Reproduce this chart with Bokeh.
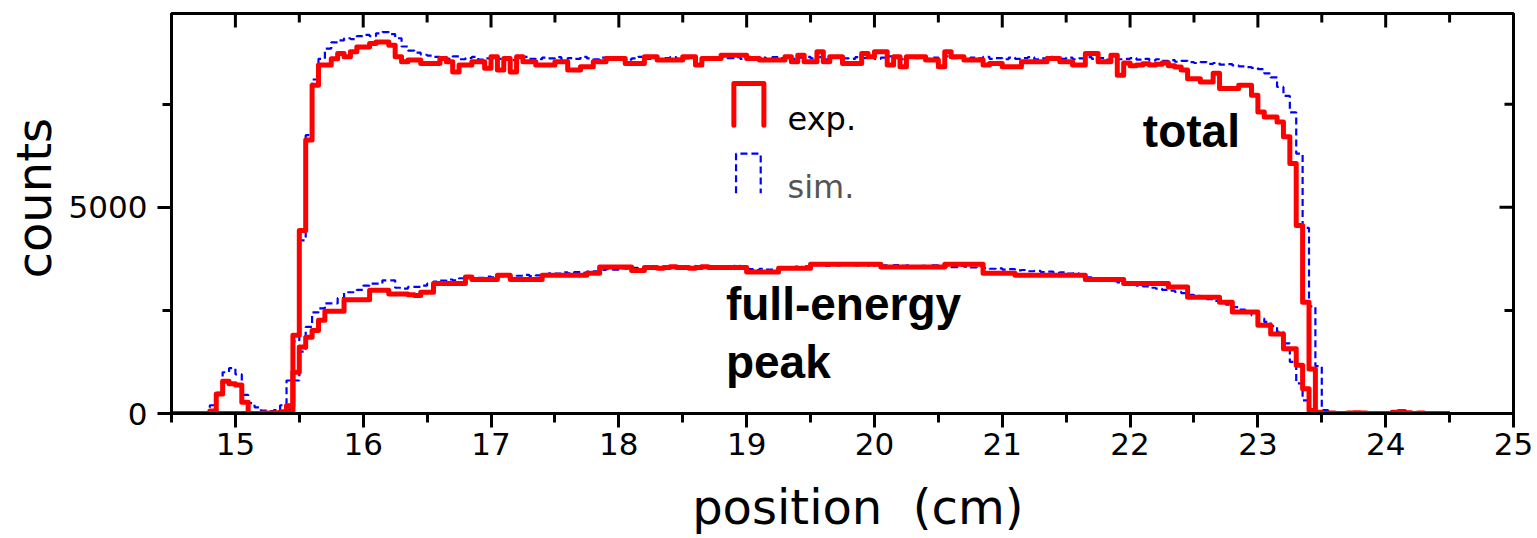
import numpy as np
from bokeh.plotting import figure
from bokeh.models import Range1d, FixedTicker, Label
from bokeh.embed import file_html
from bokeh.resources import INLINE

# ---------------- data ----------------
bin_start = 14.5
bin_width = 0.05

exp_total = [
    0, 0, 0, 0, 0, 0, 60, 470, 780, 720,
    690, 270, 0, 0, 10, 10, 20, 40, 190, 1900,
    4440, 6630, 7960, 8450, 8450, 8600, 8730, 8650, 8770, 8890,
    8890, 8970, 9010, 9010, 8930, 8650, 8530, 8570, 8570, 8490,
    8490, 8490, 8610, 8530, 8280, 8450, 8450, 8530, 8530, 8370,
    8650, 8330, 8610, 8280, 8650, 8530, 8530, 8450, 8450, 8450,
    8530, 8530, 8330, 8330, 8410, 8410, 8530, 8530, 8610, 8610,
    8610, 8490, 8490, 8490, 8650, 8650, 8570, 8570, 8570, 8570,
    8650, 8650, 8450, 8610, 8610, 8610, 8690, 8690, 8690, 8690,
    8610, 8610, 8570, 8570, 8570, 8570, 8650, 8530, 8690, 8530,
    8530, 8770, 8530, 8650, 8650, 8490, 8490, 8490, 8730, 8650,
    8770, 8770, 8450, 8650, 8410, 8650, 8650, 8650, 8570, 8570,
    8410, 8770, 8650, 8650, 8570, 8570, 8570, 8450, 8490, 8490,
    8410, 8410, 8410, 8530, 8530, 8530, 8530, 8610, 8610, 8530,
    8530, 8450, 8450, 8730, 8730, 8530, 8530, 8690, 8200, 8500,
    8430, 8450, 8480, 8450, 8470, 8500, 8430, 8400, 8330, 8120,
    8120, 8040, 8040, 8250, 7880, 7880, 7880, 7960, 7960, 7720,
    7310, 7190, 7190, 7070, 6710, 6060, 4560, 2700, 1080, 30,
    0, 10, 0, 0, 10, 20, 10, 0, 0, 0,
    0, 30, 50, 20, 0, 10, 0, 0, 0, 0,
]

exp_peak = [
    0, 0, 0, 0, 0, 0, 0, 0, 0, 0,
    0, 0, 0, 0, 0, 0, 0, 10, 20, 1000,
    1610, 1850, 2010, 2260, 2480, 2480, 2480, 2760, 2760, 2760,
    2760, 2990, 2990, 2990, 2900, 2900, 2900, 2880, 2860, 2940,
    2940, 3150, 3150, 3150, 3150, 3150, 3310, 3250, 3250, 3250,
    3250, 3350, 3350, 3250, 3250, 3250, 3250, 3250, 3350, 3350,
    3350, 3350, 3350, 3350, 3350, 3400, 3400, 3550, 3550, 3550,
    3550, 3550, 3470, 3470, 3540, 3540, 3520, 3540, 3560, 3540,
    3540, 3520, 3540, 3560, 3540, 3540, 3540, 3540, 3540, 3540,
    3430, 3430, 3430, 3430, 3430, 3520, 3520, 3520, 3520, 3520,
    3620, 3620, 3620, 3620, 3620, 3620, 3620, 3620, 3620, 3620,
    3620, 3550, 3550, 3550, 3550, 3550, 3550, 3550, 3550, 3550,
    3550, 3620, 3620, 3620, 3620, 3620, 3620, 3400, 3400, 3400,
    3400, 3400, 3350, 3350, 3350, 3350, 3350, 3350, 3350, 3350,
    3350, 3350, 3350, 3250, 3250, 3250, 3250, 3250, 3250, 3150,
    3150, 3150, 3150, 3150, 3150, 3150, 3070, 3070, 3070, 2820,
    2820, 2820, 2820, 2820, 2700, 2700, 2460, 2460, 2460, 2460,
    2140, 2140, 1930, 1930, 1570, 1570, 1170, 600, 70, 0,
    0, 0, 0, 0, 0, 0, 0, 0, 0, 0,
    0, 0, 0, 0, 0, 0, 0, 0, 0, 0,
]

sim_total = [
    0, 0, 0, 0, 0, 0, 200, 500, 1000, 1100,
    950, 450, 250, 150, 70, 60, 80, 200, 800, 1750,
    4200, 6750, 8100, 8600, 8850, 9000, 9050, 9100, 9080, 9150,
    9180, 9150, 9220, 9250, 9200, 9100, 8900, 8800, 8750, 8700,
    8680, 8650, 8640, 8600, 8660, 8590, 8620, 8650, 8580, 8610,
    8640, 8600, 8630, 8570, 8620, 8650, 8600, 8590, 8630, 8610,
    8640, 8580, 8620, 8600, 8650, 8610, 8590, 8630, 8600, 8640,
    8620, 8580, 8610, 8650, 8600, 8630, 8590, 8620, 8640, 8600,
    8610, 8650, 8590, 8620, 8640, 8600, 8660, 8620, 8640, 8600,
    8650, 8610, 8630, 8590, 8640, 8620, 8660, 8600, 8630, 8650,
    8610, 8640, 8590, 8630, 8660, 8610, 8600, 8640, 8620, 8650,
    8600, 8630, 8660, 8610, 8590, 8640, 8620, 8650, 8600, 8630,
    8610, 8660, 8620, 8640, 8590, 8630, 8610, 8650, 8600, 8620,
    8590, 8630, 8600, 8620, 8640, 8590, 8610, 8650, 8620, 8600,
    8630, 8590, 8610, 8640, 8600, 8620, 8580, 8610, 8590, 8600,
    8620, 8580, 8600, 8560, 8590, 8550, 8570, 8530, 8550, 8520,
    8500, 8520, 8480, 8500, 8460, 8470, 8440, 8420, 8400, 8380,
    8350, 8250, 8150, 7920, 7700, 7300, 6300, 4500, 2600, 1150,
    80, 0, 20, 0, 10, 0, 0, 30, 10, 0,
    0, 20, 40, 10, 0, 0, 10, 0, 0, 0,
]

sim_peak = [
    0, 0, 0, 0, 0, 0, 0, 0, 0, 0,
    0, 0, 0, 0, 0, 0, 0, 20, 100, 800,
    1500, 2100, 2450, 2550, 2670, 2670, 2800, 2940, 2940, 3000,
    3100, 3150, 3150, 3230, 3230, 3050, 3030, 3070, 3070, 3100,
    3150, 3200, 3220, 3250, 3230, 3280, 3300, 3280, 3290, 3320,
    3300, 3330, 3350, 3320, 3340, 3360, 3330, 3350, 3380, 3400,
    3390, 3420, 3400, 3430, 3410, 3440, 3450, 3480, 3500, 3490,
    3520, 3510, 3530, 3520, 3540, 3560, 3530, 3550, 3570, 3540,
    3560, 3550, 3580, 3540, 3560, 3570, 3560, 3550, 3580, 3560,
    3500, 3480, 3510, 3490, 3500, 3550, 3540, 3560, 3550, 3570,
    3590, 3600, 3580, 3610, 3590, 3620, 3600, 3590, 3610, 3580,
    3600, 3590, 3570, 3600, 3580, 3590, 3560, 3580, 3570, 3590,
    3560, 3570, 3550, 3580, 3560, 3540, 3560, 3530, 3510, 3520,
    3490, 3500, 3470, 3480, 3450, 3460, 3430, 3440, 3410, 3420,
    3390, 3400, 3370, 3300, 3280, 3260, 3230, 3210, 3180, 3150,
    3120, 3100, 3080, 3050, 3030, 3000, 2980, 2950, 2920, 2880,
    2850, 2810, 2770, 2730, 2690, 2640, 2580, 2520, 2450, 2380,
    2300, 2220, 2120, 1980, 1700, 1250, 730, 320, 60, 0,
    0, 0, 0, 0, 0, 0, 0, 0, 0, 0,
    0, 0, 0, 0, 0, 0, 0, 0, 0, 0,
]

x_major_ticks = [15, 16, 17, 18, 19, 20, 21, 22, 23, 24, 25]
x_minor_ticks = [14.5, 15.5, 16.5, 17.5, 18.5, 19.5, 20.5, 21.5, 22.5, 23.5, 24.5]
y_major_ticks = [0, 5000]
y_minor_ticks = [2500, 7500]

for arr in (exp_total, exp_peak, sim_total, sim_peak):
    assert len(arr) == 200, len(arr)

edges = bin_start + bin_width * np.arange(201)


def stairs(vals):
    return np.append(np.asarray(vals, dtype=float), vals[-1])


# ---------------- figure ----------------
X0, X1, Y0, Y1 = 14.5, 25.0, 0.0, 9700.0
FRAME_W, FRAME_H = 1342, 400
p = figure(width=1537, height=538, output_backend="svg", toolbar_location=None,
           x_range=Range1d(X0, X1), y_range=Range1d(Y0, Y1),
           min_border_left=171, min_border_right=24, min_border_top=13,
           min_border_bottom=125)
p.xgrid.visible = False
p.ygrid.visible = False
p.outline_line_color = "black"
p.outline_line_width = 3
p.background_fill_color = "white"
p.border_fill_color = "white"

BLUE = "#0000ff"
RED = "#ff0000"

for vals in (sim_total, sim_peak):
    p.step(x=edges, y=stairs(vals), mode="after", line_color=BLUE,
           line_width=2.2, line_dash="7 4")
for vals in (exp_total, exp_peak):
    p.step(x=edges, y=stairs(vals), mode="after", line_color=RED,
           line_width=5, line_join="round")

# inward ticks on the top and right frame edges (mirror of bottom / left)
px_y = (Y1 - Y0) / FRAME_H
px_x = (X1 - X0) / FRAME_W
for ticks, ln in ((x_major_ticks, 14), (x_minor_ticks, 9)):
    p.segment(x0=ticks, x1=ticks, y0=[Y1] * len(ticks),
              y1=[Y1 - ln * px_y] * len(ticks), line_color="black", line_width=3)
for ticks, ln in ((y_major_ticks, 14), (y_minor_ticks, 9)):
    p.segment(x0=[X1] * len(ticks), x1=[X1 - ln * px_x] * len(ticks),
              y0=ticks, y1=ticks, line_color="black", line_width=3)

# legend (drawn manually as open-bottom boxes)
p.line(x=[18.90, 18.90, 19.135, 19.135], y=[6990, 8000, 8000, 6990],
       line_color=RED, line_width=5, line_join="round", line_cap="round")
p.line(x=[18.917, 18.917, 19.11, 19.11], y=[5340, 6300, 6300, 5340],
       line_color=BLUE, line_width=2.2, line_dash="7 4")
p.add_layout(Label(x=19.32, y=7140, text="exp.", text_font="DejaVu Sans",
                   text_font_size="32px", text_color="black",
                   text_baseline="alphabetic"))
p.add_layout(Label(x=19.32, y=5500, text="sim.", text_font="DejaVu Sans",
                   text_font_size="32px", text_color="#555555",
                   text_baseline="alphabetic"))

for txt, xx, yy in (("total", 22.10, 6860), ("full-energy", 18.838, 2660),
                    ("peak", 18.838, 1240)):
    p.add_layout(Label(x=xx, y=yy, text=txt, text_font="Liberation Sans",
                       text_font_style="bold", text_font_size="46px",
                       text_color="black", text_baseline="alphabetic"))

# ---------------- axes ----------------
def style(ax):
    ax.axis_line_width = 3
    ax.major_tick_line_width = 3
    ax.minor_tick_line_width = 3
    ax.major_tick_in, ax.major_tick_out = 0, 14
    ax.minor_tick_in, ax.minor_tick_out = 0, 9
    ax.major_label_text_font = "DejaVu Sans"
    ax.major_label_text_font_size = "31px"
    ax.major_label_text_color = "black"
    ax.axis_label_text_font = "DejaVu Sans"
    ax.axis_label_text_font_style = "normal"
    ax.axis_label_text_font_size = "48px"
    ax.axis_label_text_color = "black"


xb = p.xaxis[0]
xb.ticker = FixedTicker(ticks=x_major_ticks, minor_ticks=x_minor_ticks)
style(xb)
xb.major_label_standoff = 5
xb.axis_label = "\u00a0\u00a0position\u00a0 (cm)"
xb.axis_label_standoff = 21

yl = p.yaxis[0]
yl.ticker = FixedTicker(ticks=y_major_ticks, minor_ticks=y_minor_ticks)
style(yl)
yl.major_label_standoff = 10
yl.axis_label = "\u00a0\u00a0counts"
yl.axis_label_standoff = 4

open("out.html", "w").write(file_html(p, INLINE))
